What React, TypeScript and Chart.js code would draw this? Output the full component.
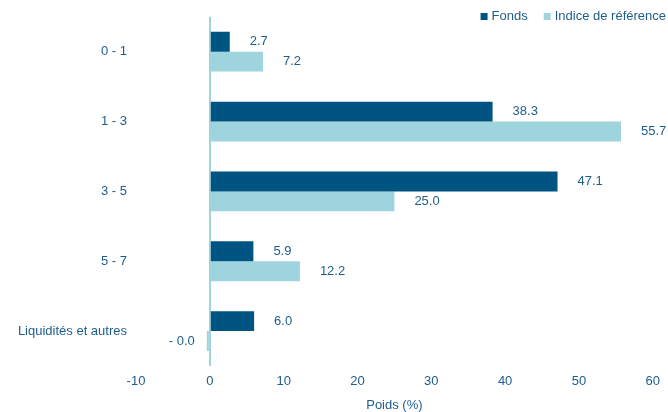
import React, { useEffect, useRef } from "react";
import { Chart, registerables } from "chart.js";

Chart.register(...registerables);

const categories = ["0 - 1", "1 - 3", "3 - 5", "5 - 7", "Liquidités et autres"];
const fondsValues = [2.7, 38.3, 47.1, 5.9, 6.0];
const indiceValues = [7.2, 55.7, 25.0, 12.2, -0.04];
const seriesNames = ["Fonds", "Indice de référence"];
const xTicks = [-10, 0, 10, 20, 30, 40, 50, 60];
const axisTitle = "Poids (%)";

const DARK = "#005482";
const LIGHT = "#9dd4de";
const TEXT = "#1f5d8c";
const FONT = "'Liberation Sans', Arial, sans-serif";
const FS = 13;

const labelsPlugin = {
  id: "valueLabels",
  afterDatasetsDraw(chart: any) {
    const ctx = chart.ctx;
    ctx.save();
    ctx.font = `${FS}px ${FONT}`;
    ctx.fillStyle = TEXT;
    ctx.textBaseline = "middle";
    chart.data.datasets.forEach((ds: any, di: number) => {
      const meta = chart.getDatasetMeta(di);
      meta.data.forEach((el: any, i: number) => {
        const v = ds.data[i];
        if (v < 0) {
          ctx.textAlign = "right";
          ctx.fillText("- " + Math.abs(v).toFixed(1), el.x - 12, el.y);
        } else {
          ctx.textAlign = "left";
          ctx.fillText(v.toFixed(1), el.x + 20, el.y);
        }
      });
    });
    ctx.restore();
  },
};

const legendPlugin = {
  id: "customLegend",
  afterDraw(chart: any) {
    const ctx = chart.ctx;
    ctx.save();
    ctx.font = `${FS}px ${FONT}`;
    ctx.textBaseline = "middle";
    ctx.textAlign = "left";
    const y = 16;
    const colors = [DARK, LIGHT];
    const w0 = ctx.measureText(seriesNames[0]).width;
    const w1 = ctx.measureText(seriesNames[1]).width;
    const right = 666;
    const x1 = right - w1;
    ctx.fillStyle = colors[1];
    ctx.fillRect(x1 - 11, y - 3, 7, 7);
    ctx.fillStyle = TEXT;
    ctx.fillText(seriesNames[1], x1, y);
    const x0 = x1 - 11 - 16 - w0;
    ctx.fillStyle = colors[0];
    ctx.fillRect(x0 - 11, y - 3, 7, 7);
    ctx.fillStyle = TEXT;
    ctx.fillText(seriesNames[0], x0, y);
    ctx.restore();
  },
};

export default function App() {
  const ref = useRef<HTMLCanvasElement>(null);
  useEffect(() => {
    document.body.style.margin = "0";
    const chart = new Chart(ref.current!, {
      type: "bar",
      data: {
        labels: categories,
        datasets: [
          { label: seriesNames[0], data: fondsValues, backgroundColor: DARK, borderWidth: 0, minBarLength: 3 },
          { label: seriesNames[1], data: indiceValues, backgroundColor: LIGHT, borderWidth: 0, minBarLength: 3 },
        ],
      },
      options: {
        indexAxis: "y",
        animation: false,
        responsive: false,
        maintainAspectRatio: false,
        layout: { padding: { top: 14, right: 14, bottom: 0, left: 0 } },
        datasets: { bar: { categoryPercentage: 0.57, barPercentage: 1.0 } },
        plugins: { legend: { display: false }, tooltip: { enabled: false } },
        scales: {
          x: {
            min: -10,
            max: 60,
            afterBuildTicks: (scale: any) => {
              scale.ticks = xTicks.map((v) => ({ value: v }));
            },
            afterFit: (scale: any) => {
              scale.height = 46;
            },
            border: { display: false },
            grid: {
              drawTicks: false,
              lineWidth: (c: any) => (c.tick && c.tick.value === 0 ? 2 : 0),
              color: (c: any) => (c.tick && c.tick.value === 0 ? LIGHT : "rgba(0,0,0,0)"),
            },
            ticks: { color: TEXT, font: { family: FONT, size: FS }, padding: 8 },
            title: {
              display: true,
              text: axisTitle,
              color: TEXT,
              font: { family: FONT, size: FS },
              padding: { top: 0, bottom: -1 },
            },
          },
          y: {
            afterFit: (scale: any) => {
              scale.width = 136;
            },
            border: { display: false },
            grid: { display: false, drawTicks: false },
            ticks: { color: TEXT, font: { family: FONT, size: FS }, padding: 9 },
          },
        },
      },
      plugins: [labelsPlugin, legendPlugin],
    });
    return () => chart.destroy();
  }, []);
  return (
    <div style={{ position: "absolute", left: 0, top: 0, width: 668, height: 412 }}>
      <canvas ref={ref} width={668} height={412} style={{ width: 668, height: 412 }} />
    </div>
  );
}
